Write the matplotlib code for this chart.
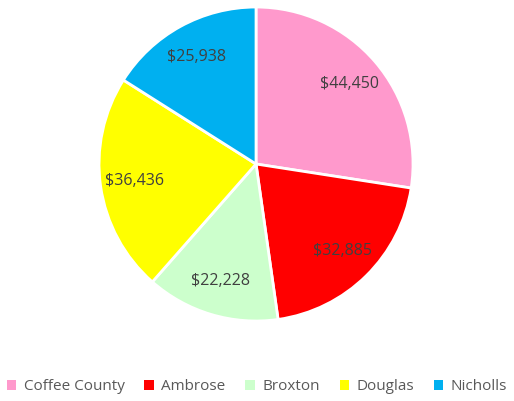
import numpy as np
import matplotlib
matplotlib.use("Agg")
import matplotlib.pyplot as plt
from matplotlib.patches import Patch

# data
names = ["Coffee County", "Ambrose", "Broxton", "Douglas", "Nicholls"]
amounts = [44450, 32885, 22228, 36436, 25938]
colors = ["#FF99CC", "#FF0000", "#CCFFCC", "#FFFF00", "#00B0F0"]

plt.rcParams["font.family"] = ["Open Sans", "DejaVu Sans"]

fig = plt.figure(figsize=(5.14, 4.01), dpi=100)
ax = fig.add_axes([0.1926, 0.1995, 0.611, 0.783])

wedges, _ = ax.pie(amounts, colors=colors, startangle=90, counterclock=False,
                   radius=1.0, wedgeprops=dict(edgecolor="white", linewidth=2))
ax.set_xlim(-1, 1)
ax.set_ylim(-1, 1)
ax.set_aspect("equal")

# value labels inside each slice
for w, v in zip(wedges, amounts):
    mid = np.deg2rad((w.theta1 + w.theta2) / 2)
    ax.text(0.78 * np.cos(mid), 0.78 * np.sin(mid), "${:,}".format(v),
            ha="center", va="center", fontsize=11.5, color="#404040")

handles = [Patch(facecolor=c, edgecolor="none") for c in colors]
fig.legend(handles, names, loc="center", bbox_to_anchor=(0.5, 0.035), ncol=5,
           frameon=False, fontsize=11, labelcolor="#595959",
           handlelength=0.6, handleheight=0.6, handletextpad=0.5,
           columnspacing=1.3)

fig.savefig("out.png", dpi=100)
